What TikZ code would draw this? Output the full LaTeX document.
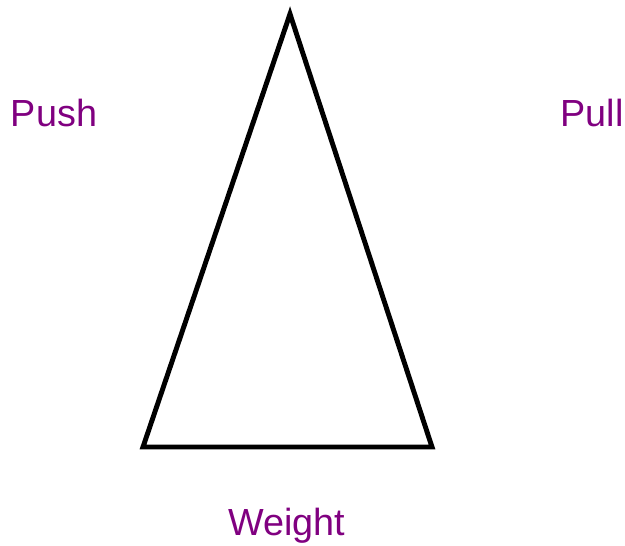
\documentclass[tikz,border=0pt]{standalone}
\usepackage{fontspec}
\setmainfont{Liberation Sans}
\usepackage{tikz}
\definecolor{labelpurple}{RGB}{128,0,128}
\tikzset{
  forcelabel/.style={text=labelpurple, font=\fontsize{21.5}{25}\selectfont, inner sep=0pt}
}

\begin{document}
\begin{tikzpicture}[x=0.02cm, y=-0.02cm]
			\useasboundingbox (0, 0) rectangle (625, 546);
			% Triangle of forces
			\coordinate (apex) at (290, 14);
			\coordinate (bl) at (143, 447);
			\coordinate (br) at (432, 447);
			\draw[line width=2.8pt, line join=miter] (apex) -- (br) -- (bl) -- cycle;
			% Labels
			\node[forcelabel] (push) at (54, 113) {Push};
			\node[forcelabel] (pull) at (592, 113) {Pull};
			\node[forcelabel] (weight) at (287, 526) {Weight};
		\end{tikzpicture}
\end{document}
